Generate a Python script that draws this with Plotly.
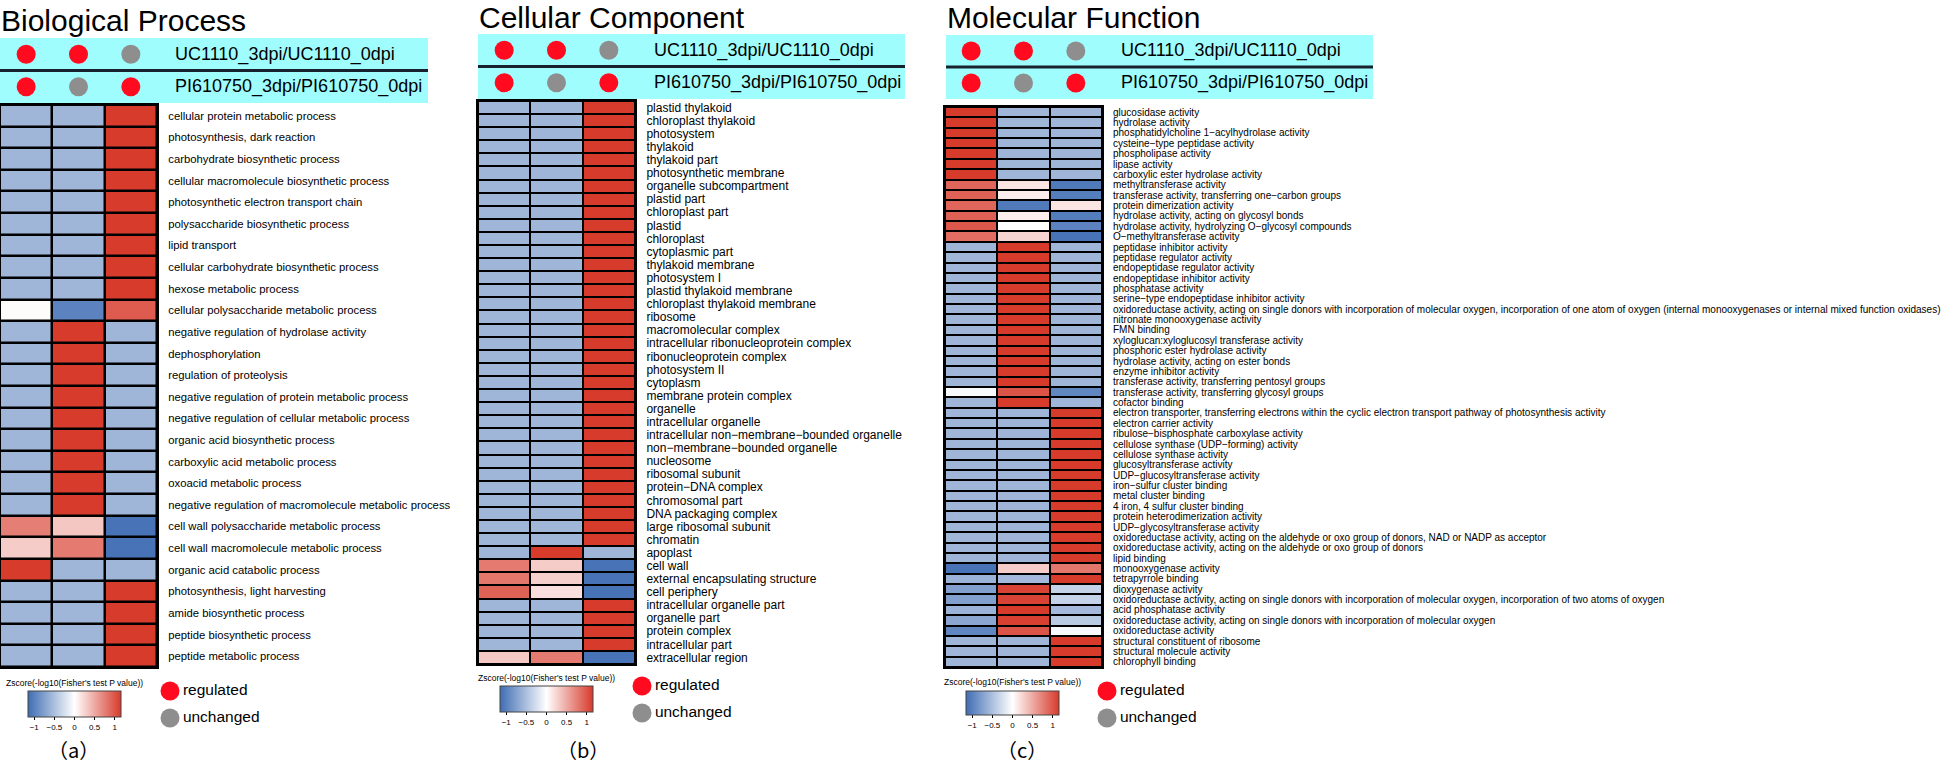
import plotly.graph_objects as go

W, H = 1946, 765

# ---------------- data ----------------
titles = ["Biological Process", "Cellular Component", "Molecular Function"]
panel_tags = ["（a）", "（b）", "（c）"]
comparisons = ["UC1110_3dpi/UC1110_0dpi", "PI610750_3dpi/PI610750_0dpi"]
status = [["regulated", "regulated", "unchanged"],
          ["regulated", "unchanged", "regulated"]]
legend_labels = ["regulated", "unchanged"]
cbar_title = "Zscore(-log10(Fisher's test P value))"
cbar_tickvals = [-1, -0.5, 0, 0.5, 1]
cbar_ticktext = ["−1", "−0.5", "0", "0.5", "1"]

bp_terms = [
    "cellular protein metabolic process",
    "photosynthesis, dark reaction",
    "carbohydrate biosynthetic process",
    "cellular macromolecule biosynthetic process",
    "photosynthetic electron transport chain",
    "polysaccharide biosynthetic process",
    "lipid transport",
    "cellular carbohydrate biosynthetic process",
    "hexose metabolic process",
    "cellular polysaccharide metabolic process",
    "negative regulation of hydrolase activity",
    "dephosphorylation",
    "regulation of proteolysis",
    "negative regulation of protein metabolic process",
    "negative regulation of cellular metabolic process",
    "organic acid biosynthetic process",
    "carboxylic acid metabolic process",
    "oxoacid metabolic process",
    "negative regulation of macromolecule metabolic process",
    "cell wall polysaccharide metabolic process",
    "cell wall macromolecule metabolic process",
    "organic acid catabolic process",
    "photosynthesis, light harvesting",
    "amide biosynthetic process",
    "peptide biosynthetic process",
    "peptide metabolic process",
]
bp_z = [
    [-0.58, -0.58, 1.15], [-0.58, -0.58, 1.15], [-0.58, -0.58, 1.15],
    [-0.58, -0.58, 1.15], [-0.58, -0.58, 1.15], [-0.58, -0.58, 1.15],
    [-0.58, -0.58, 1.15], [-0.58, -0.58, 1.15], [-0.58, -0.58, 1.15],
    [0.02, -0.98, 0.96],
    [-0.58, 1.15, -0.58], [-0.58, 1.15, -0.58], [-0.58, 1.15, -0.58],
    [-0.58, 1.15, -0.58], [-0.58, 1.15, -0.58], [-0.58, 1.15, -0.58],
    [-0.58, 1.15, -0.58], [-0.58, 1.15, -0.58], [-0.58, 1.15, -0.58],
    [0.75, 0.33, -1.1],
    [0.3, 0.78, -1.1],
    [1.15, -0.58, -0.58],
    [-0.58, -0.58, 1.15], [-0.58, -0.58, 1.15], [-0.58, -0.58, 1.15],
    [-0.58, -0.58, 1.15],
]

cc_terms = [
    "plastid thylakoid", "chloroplast thylakoid", "photosystem", "thylakoid",
    "thylakoid part", "photosynthetic membrane", "organelle subcompartment",
    "plastid part", "chloroplast part", "plastid", "chloroplast",
    "cytoplasmic part", "thylakoid membrane", "photosystem I",
    "plastid thylakoid membrane", "chloroplast thylakoid membrane", "ribosome",
    "macromolecular complex", "intracellular ribonucleoprotein complex",
    "ribonucleoprotein complex", "photosystem II", "cytoplasm",
    "membrane protein complex", "organelle", "intracellular organelle",
    "intracellular non−membrane−bounded organelle",
    "non−membrane−bounded organelle", "nucleosome", "ribosomal subunit",
    "protein−DNA complex", "chromosomal part", "DNA packaging complex",
    "large ribosomal subunit", "chromatin", "apoplast", "cell wall",
    "external encapsulating structure", "cell periphery",
    "intracellular organelle part", "organelle part", "protein complex",
    "intracellular part", "extracellular region",
]
cc_z = [
    [-0.58, -0.58, 1.15], [-0.58, -0.58, 1.15], [-0.58, -0.58, 1.15],
    [-0.58, -0.58, 1.15], [-0.58, -0.58, 1.15], [-0.58, -0.58, 1.15],
    [-0.58, -0.58, 1.15], [-0.58, -0.58, 1.15], [-0.58, -0.58, 1.15],
    [-0.58, -0.58, 1.15], [-0.58, -0.58, 1.15], [-0.58, -0.58, 1.15],
    [-0.58, -0.58, 1.15], [-0.58, -0.58, 1.15], [-0.58, -0.58, 1.15],
    [-0.58, -0.58, 1.15], [-0.58, -0.58, 1.15], [-0.58, -0.58, 1.15],
    [-0.58, -0.58, 1.15], [-0.58, -0.58, 1.15], [-0.58, -0.58, 1.15],
    [-0.58, -0.58, 1.15], [-0.58, -0.58, 1.15], [-0.58, -0.58, 1.15],
    [-0.58, -0.58, 1.15], [-0.58, -0.58, 1.15], [-0.58, -0.58, 1.15],
    [-0.58, -0.58, 1.15], [-0.58, -0.58, 1.15], [-0.58, -0.58, 1.15],
    [-0.58, -0.58, 1.15], [-0.58, -0.58, 1.15], [-0.58, -0.58, 1.15],
    [-0.58, -0.58, 1.15],
    [-0.58, 1.15, -0.58],
    [0.78, 0.3, -1.1],
    [0.8, 0.28, -1.1],
    [0.92, 0.18, -1.1],
    [-0.58, -0.58, 1.15], [-0.58, -0.58, 1.15], [-0.58, -0.58, 1.15],
    [-0.58, -0.58, 1.15],
    [0.32, 0.78, -1.1],
]

mf_terms = [
    "glucosidase activity",
    "hydrolase activity",
    "phosphatidylcholine 1−acylhydrolase activity",
    "cysteine−type peptidase activity",
    "phospholipase activity",
    "lipase activity",
    "carboxylic ester hydrolase activity",
    "methyltransferase activity",
    "transferase activity, transferring one−carbon groups",
    "protein dimerization activity",
    "hydrolase activity, acting on glycosyl bonds",
    "hydrolase activity, hydrolyzing O−glycosyl compounds",
    "O−methyltransferase activity",
    "peptidase inhibitor activity",
    "peptidase regulator activity",
    "endopeptidase regulator activity",
    "endopeptidase inhibitor activity",
    "phosphatase activity",
    "serine−type endopeptidase inhibitor activity",
    "oxidoreductase activity, acting on single donors with incorporation of molecular oxygen, incorporation of one atom of oxygen (internal monooxygenases or internal mixed function oxidases)",
    "nitronate monooxygenase activity",
    "FMN binding",
    "xyloglucan:xyloglucosyl transferase activity",
    "phosphoric ester hydrolase activity",
    "hydrolase activity, acting on ester bonds",
    "enzyme inhibitor activity",
    "transferase activity, transferring pentosyl groups",
    "transferase activity, transferring glycosyl groups",
    "cofactor binding",
    "electron transporter, transferring electrons within the cyclic electron transport pathway of photosynthesis activity",
    "electron carrier activity",
    "ribulose−bisphosphate carboxylase activity",
    "cellulose synthase (UDP−forming) activity",
    "cellulose synthase activity",
    "glucosyltransferase activity",
    "UDP−glucosyltransferase activity",
    "iron−sulfur cluster binding",
    "metal cluster binding",
    "4 iron, 4 sulfur cluster binding",
    "protein heterodimerization activity",
    "UDP−glycosyltransferase activity",
    "oxidoreductase activity, acting on the aldehyde or oxo group of donors, NAD or NADP as acceptor",
    "oxidoreductase activity, acting on the aldehyde or oxo group of donors",
    "lipid binding",
    "monooxygenase activity",
    "tetrapyrrole binding",
    "dioxygenase activity",
    "oxidoreductase activity, acting on single donors with incorporation of molecular oxygen, incorporation of two atoms of oxygen",
    "acid phosphatase activity",
    "oxidoreductase activity, acting on single donors with incorporation of molecular oxygen",
    "oxidoreductase activity",
    "structural constituent of ribosome",
    "structural molecule activity",
    "chlorophyll binding",
]
mf_z = [
    [1.15, -0.58, -0.58], [1.15, -0.58, -0.58], [1.15, -0.58, -0.58],
    [1.15, -0.58, -0.58], [1.15, -0.58, -0.58], [1.15, -0.58, -0.58],
    [1.15, -0.58, -0.58],
    [0.9, 0.15, -1.05],
    [0.92, 0.1, -1.02],
    [0.9, -1.05, 0.15],
    [0.93, 0.1, -1.03],
    [0.98, 0.0, -0.98],
    [0.85, 0.25, -1.1],
    [-0.58, 1.15, -0.58], [-0.58, 1.15, -0.58], [-0.58, 1.15, -0.58],
    [-0.58, 1.15, -0.58], [-0.58, 1.15, -0.58], [-0.58, 1.15, -0.58],
    [-0.58, 1.15, -0.58], [-0.58, 1.15, -0.58], [-0.58, 1.15, -0.58],
    [-0.58, 1.15, -0.58], [-0.58, 1.15, -0.58], [-0.58, 1.15, -0.58],
    [-0.58, 1.15, -0.58], [-0.58, 1.15, -0.58],
    [-0.05, 1.0, -0.95],
    [-0.58, 1.15, -0.58],
    [-0.58, -0.58, 1.15], [-0.58, -0.58, 1.15], [-0.58, -0.58, 1.15],
    [-0.58, -0.58, 1.15], [-0.58, -0.58, 1.15], [-0.58, -0.58, 1.15],
    [-0.58, -0.58, 1.15], [-0.58, -0.58, 1.15], [-0.58, -0.58, 1.15],
    [-0.58, -0.58, 1.15], [-0.58, -0.58, 1.15], [-0.58, -0.58, 1.15],
    [-0.58, -0.58, 1.15], [-0.58, -0.58, 1.15], [-0.58, -0.58, 1.15],
    [-1.1, 0.3, 0.8],
    [-0.6, -0.55, 1.15],
    [-0.75, 1.1, -0.35],
    [-0.75, 1.1, -0.35],
    [-0.6, 1.15, -0.55],
    [-0.7, 1.12, -0.42],
    [-0.95, 1.0, -0.05],
    [-0.58, -0.58, 1.15], [-0.58, -0.58, 1.15], [-0.58, -0.58, 1.15],
]

panels_terms = [bp_terms, cc_terms, mf_terms]
panels_z = [bp_z, cc_z, mf_z]

# ---------------- styling ----------------
FONT = "Liberation Sans, Arial, sans-serif"
CJK = "Noto Sans CJK SC, sans-serif"
colorscale = [[0.0, "#3F6DB3"], [0.5, "#FFFFFF"], [1.0, "#D73A2B"]]
ZLIM = 1.155
status_colors = {"regulated": "#FF0A1E", "unchanged": "#8E8E8E"}
BAND = "#A0FDFD"

# pixel geometry of each panel
geoms = [
    dict(heat=(0, 157, 105, 667), band=(0, 428, 38, 103), title=(0, 3),
         lab=11.3, gap=2.5, htx=173, cbar=(28, 121, 691, 717), cty=683,
         leg=(170, 691, 718), tag=(73,)),
    dict(heat=(478, 635, 101, 664), band=(478, 905, 34, 99), title=(478, 0),
         lab=12, gap=2, htx=652, cbar=(500, 593, 686, 712), cty=678,
         leg=(642, 686, 713), tag=(583,)),
    dict(heat=(945, 1102, 107, 667), band=(946, 1373, 35, 99), title=(946, 0),
         lab=10, gap=2, htx=1119, cbar=(966, 1059, 691, 715), cty=682,
         leg=(1107, 691, 718), tag=(1022,)),
]


def px(x):
    return x / W


def py(y):
    return 1 - y / H


fig = go.Figure()
layout = dict(width=W, height=H,
              margin=dict(l=0, r=0, t=0, b=0, pad=0, autoexpand=False),
              paper_bgcolor="white", plot_bgcolor="rgba(0,0,0,0)",
              showlegend=False, font=dict(family=FONT, color="black"))
shapes, annotations = [], []


def axname(k, kind):
    return f"{kind}axis" if k == 1 else f"{kind}axis{k}"


def ref(k, kind):
    return kind if k == 1 else f"{kind}{k}"


for i in range(3):
    g = geoms[i]
    terms, z = panels_terms[i], panels_z[i]
    n = len(terms)
    kh, kb, kl = 3 * i + 1, 3 * i + 2, 3 * i + 3
    hx0, hx1, hy0, hy1 = g["heat"]

    # ---- heatmap axes ----
    layout[axname(kh, "x")] = dict(domain=[px(hx0), px(hx1)], range=[-0.5, 2.5],
                                   showticklabels=False, showgrid=False, zeroline=False,
                                   ticks="", showline=True, mirror=True, linecolor="black",
                                   linewidth=2, anchor=ref(kh, "y"), fixedrange=True,
                                   automargin=False)
    layout[axname(kh, "y")] = dict(domain=[py(hy1), py(hy0)], range=[n - 0.5, -0.5],
                                   tickvals=list(range(n)), ticktext=terms, side="right",
                                   ticks="", showgrid=False, zeroline=False, showline=True,
                                   mirror=True, linecolor="black", linewidth=2,
                                   tickfont=dict(size=g["lab"], family=FONT, color="black"),
                                   ticklabelstandoff=7, automargin=False,
                                   anchor=ref(kh, "x"), fixedrange=True)
    # black underlay forming the cell borders
    fig.add_trace(go.Heatmap(z=[[0]], x=[-0.5, 2.5], y=[-0.5, n - 0.5],
                             colorscale=[[0, "black"], [1, "black"]], showscale=False,
                             hoverinfo="skip", xaxis=ref(kh, "x"), yaxis=ref(kh, "y")))
    cx0, cx1, cy0, cy1 = g["cbar"]
    fig.add_trace(go.Heatmap(
        z=z, x=[0, 1, 2], y=list(range(n)), colorscale=colorscale,
        zmin=-ZLIM, zmax=ZLIM, xgap=g["gap"], ygap=g["gap"],
        xaxis=ref(kh, "x"), yaxis=ref(kh, "y"),
        colorbar=dict(orientation="h", x=px((cx0 + cx1) / 2), xanchor="center",
                      y=py(cy0), yanchor="top", len=cx1 - cx0, lenmode="pixels",
                      thickness=cy1 - cy0, thicknessmode="pixels", xpad=0, ypad=0,
                      outlinewidth=1, outlinecolor="#444444",
                      tickvals=cbar_tickvals, ticktext=cbar_ticktext,
                      ticks="outside", ticklen=3, tickcolor="black",
                      tickfont=dict(size=8, family=FONT, color="black"))))

    # ---- header band ----
    bx0, bx1, by0, by1 = g["band"]
    colw = (hx1 - hx0) / 3.0
    layout[axname(kb, "x")] = dict(domain=[px(bx0), px(bx1)],
                                   range=[-0.5 - (hx0 - bx0) / colw, -0.5 + (bx1 - hx0) / colw],
                                   visible=False, fixedrange=True, anchor=ref(kb, "y"))
    layout[axname(kb, "y")] = dict(domain=[py(by1), py(by0)], range=[1.5, -0.5],
                                   visible=False, fixedrange=True, anchor=ref(kb, "x"))
    shapes.append(dict(type="rect", xref=f"{ref(kb, 'x')} domain", yref=f"{ref(kb, 'y')} domain",
                       x0=0, x1=1, y0=0, y1=1, fillcolor=BAND, line=dict(width=0), layer="below"))
    shapes.append(dict(type="line", xref=f"{ref(kb, 'x')} domain", yref=ref(kb, "y"),
                       x0=0, x1=1, y0=0.5, y1=0.5, line=dict(color="#17222E", width=3), layer="below"))
    for r, comp in enumerate(comparisons):
        fig.add_trace(go.Scatter(
            x=[0, 1, 2], y=[r, r, r], mode="markers",
            marker=dict(size=19, color=[status_colors[s] for s in status[r]], line=dict(width=0)),
            hoverinfo="skip", xaxis=ref(kb, "x"), yaxis=ref(kb, "y"), cliponaxis=False))
        annotations.append(dict(text=comp, xref="paper", x=px(g["htx"]), xanchor="left",
                                yref=ref(kb, "y"), y=r, yanchor="middle", showarrow=False,
                                font=dict(size=18, family=FONT, color="black")))

    # ---- title ----
    tx, ty = g["title"]
    annotations.append(dict(text=titles[i], xref="paper", x=px(tx), xanchor="left",
                            yref="paper", y=py(ty), yanchor="top", showarrow=False,
                            borderpad=0,
                            font=dict(size=30, family=FONT, color="black")))

    # ---- colorbar title ----
    annotations.append(dict(text=cbar_title, xref="paper", x=px((cx0 + cx1) / 2), xanchor="center",
                            yref="paper", y=py(g["cty"]), yanchor="middle", showarrow=False,
                            font=dict(size=8.5, family=FONT, color="black")))

    # ---- legend (regulated / unchanged) ----
    lx, ly0, ly1 = g["leg"]
    step = ly1 - ly0
    layout[axname(kl, "x")] = dict(domain=[px(lx - 15), px(lx + 15)], range=[-1, 1],
                                   visible=False, fixedrange=True, anchor=ref(kl, "y"))
    layout[axname(kl, "y")] = dict(domain=[py(ly1 + step / 2), py(ly0 - step / 2)],
                                   range=[1.5, -0.5], visible=False, fixedrange=True,
                                   anchor=ref(kl, "x"))
    fig.add_trace(go.Scatter(
        x=[0, 0], y=[0, 1], mode="markers+text", text=legend_labels,
        textposition="middle right",
        textfont=dict(size=15.5, family=FONT, color="black"),
        marker=dict(size=19, color=[status_colors[s] for s in legend_labels], line=dict(width=0)),
        hoverinfo="skip", cliponaxis=False, xaxis=ref(kl, "x"), yaxis=ref(kl, "y")))

    # ---- panel tag ----
    annotations.append(dict(text=panel_tags[i], xref="paper", x=px(g["tag"][0]), xanchor="center",
                            yref="paper", y=0, yanchor="bottom", showarrow=False, borderpad=0,
                            font=dict(size=20, family=CJK, color="black")))

layout["shapes"] = shapes
layout["annotations"] = annotations
fig.update_layout(**layout)
fig.write_html("out.html", config={"displayModeBar": False},
               post_script="document.body.style.margin='0';document.body.style.overflow='hidden';")
